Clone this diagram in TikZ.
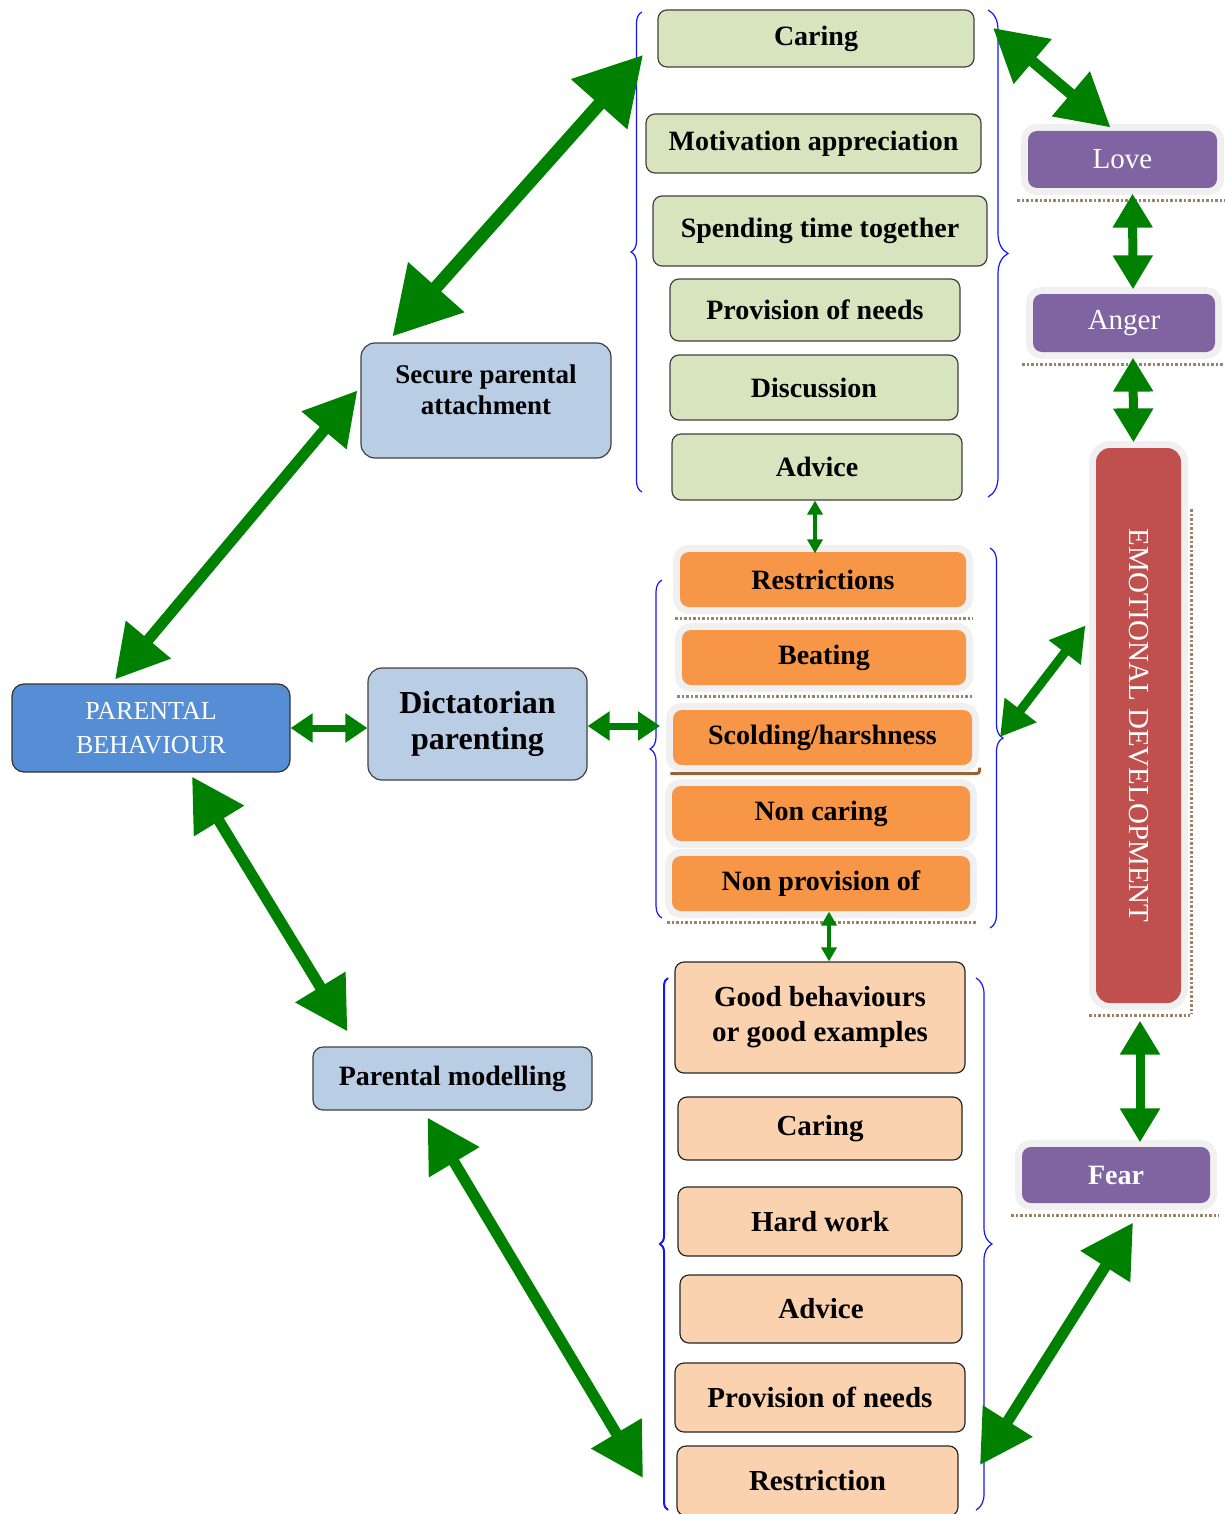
\documentclass[tikz,border=0pt]{standalone}
\usepackage{fontspec}
\setmainfont{Liberation Serif}
\usetikzlibrary{arrows.meta,decorations.pathreplacing}
\definecolor{agreen}{RGB}{0,128,0}
\definecolor{ggreen}{RGB}{215,228,189}
\definecolor{orng}{RGB}{247,150,70}
\definecolor{peach}{RGB}{250,210,176}
\definecolor{lblue}{RGB}{185,205,229}
\definecolor{dblue}{RGB}{85,142,213}
\definecolor{purp}{RGB}{128,100,162}
\definecolor{redb}{RGB}{192,80,77}
\definecolor{glow}{RGB}{240,240,240}
\definecolor{bblue}{RGB}{20,20,255}
\begin{document}
\begin{tikzpicture}[x=1pt,y=-1pt,
  every node/.style={inner sep=0pt, align=center},
  bx/.style={rounded corners=9pt, line width=1.2pt},
  gbox/.style={bx, draw=black!75, fill=ggreen, font=\bfseries\fontsize{28pt}{30pt}\selectfont},
  obox/.style={bx, fill=orng, preaction={draw=glow, line width=14pt}, font=\bfseries\fontsize{28pt}{30pt}\selectfont},
  pbox/.style={bx, draw=black!85, fill=peach, font=\bfseries\fontsize{29pt}{35pt}\selectfont},
  lbox/.style={bx, rounded corners=14pt, draw=black!75, fill=lblue, font=\bfseries\fontsize{28pt}{32pt}\selectfont},
  ebox/.style={bx, preaction={draw=glow, line width=14pt}, text=white, font=\fontsize{29pt}{32pt}\selectfont},
  shad/.style={dotted, line width=2.5pt, draw=brown!60!black!70},
  brc/.style={draw=bblue, line width=1.2pt, decorate},
  arrbig/.style={draw=agreen, line width=13pt, {Triangle[length=66pt,width=72pt]}-{Triangle[length=66pt,width=72pt]}},
  arrmed/.style={draw=agreen, line width=11pt, {Triangle[length=52pt,width=56pt]}-{Triangle[length=52pt,width=56pt]}},
  arrsm/.style={draw=agreen, line width=9pt, {Triangle[length=34pt,width=38pt]}-{Triangle[length=34pt,width=38pt]}},
  arrxs/.style={draw=agreen, line width=7pt, {Triangle[length=22pt,width=28pt]}-{Triangle[length=22pt,width=28pt]}},
  arrtiny/.style={draw=agreen, line width=4pt, {Triangle[length=14pt,width=15pt]}-{Triangle[length=14pt,width=15pt]}}
]
\useasboundingbox (0,0) rectangle (1225,1514);

% ---------- green column ----------
\node[gbox, minimum width=316pt, minimum height=57pt] (gcar) at (816,38.5) {Caring};
\node[gbox, minimum width=335pt, minimum height=59pt] (gmot) at (813.5,143.5) {Motivation appreciation};
\node[gbox, minimum width=334pt, minimum height=70pt] (gspe) at (820,231) {Spending time together};
\node[gbox, minimum width=290pt, minimum height=62pt] (gpro) at (815,310) {Provision of needs};
\node[gbox, minimum width=288pt, minimum height=65pt] (gdis) at (814,387.5) {Discussion};
\node[gbox, minimum width=290pt, minimum height=66pt] (gadv) at (817,467) {Advice};
\draw[brc, decoration={brace, amplitude=11pt}] (642,492) -- (642,12);
\draw[brc, decoration={brace, amplitude=20pt}] (988,10) -- (988,497);

% ---------- orange column ----------
\node[obox, minimum width=286pt, minimum height=55pt] (ores) at (823,579.5) {Restrictions};
\node[obox, minimum width=284pt, minimum height=55pt] (obea) at (824,657.5) {Beating};
\node[obox, minimum width=299pt, minimum height=55pt] (osco) at (822.5,737.5) {Scolding/harshness};
\node[obox, minimum width=298pt, minimum height=55pt] (ocar) at (821,813.5) {Non caring};
\node[obox, minimum width=298pt, minimum height=55pt] (onpr) at (821,883.5) {Non provision of};
\foreach \n in {ores,obea,onpr}{
  \draw[shad] ([xshift=-4pt,yshift=-11pt]\n.south west) -- ([xshift=6pt,yshift=-11pt]\n.south east);
}
\draw[line width=3pt, draw=brown!80!black, rounded corners=3pt] ([xshift=-2pt,yshift=-8pt]osco.south west) -- ([xshift=7pt,yshift=-8pt]osco.south east) -- ([xshift=7pt,yshift=-2pt]osco.south east);
\draw[brc, decoration={brace, amplitude=12pt}] (662,918) -- (662,580);
\draw[brc, decoration={brace, amplitude=13pt}] (990,548) -- (990,928);

% ---------- peach column ----------
\node[pbox, minimum width=290pt, minimum height=111pt] (pgoo) at (820,1017.5) {Good behaviours\\or good examples};
\node[pbox, minimum width=284pt, minimum height=63pt] (pcar) at (820,1128.5) {Caring};
\node[pbox, minimum width=284pt, minimum height=69pt] (phar) at (820,1221.5) {Hard work};
\node[pbox, minimum width=282pt, minimum height=68pt] (padv) at (821,1309) {Advice};
\node[pbox, minimum width=290pt, minimum height=69pt] (ppro) at (820,1397.5) {Provision of needs};
\node[pbox, minimum width=281pt, minimum height=70pt] (pres) at (817.5,1481) {Restriction};
\draw[brc, line width=2pt, decoration={brace, amplitude=8pt}] (668,1510) -- (668,978);
\draw[brc, decoration={brace, amplitude=16pt}] (976,978) -- (976,1510);

% ---------- left column ----------
\node[bx, rounded corners=12pt, draw=black!80, fill=dblue, text=white,
      font=\fontsize{26pt}{34pt}\selectfont, minimum width=278pt, minimum height=88pt] (pb) at (151,728) {PARENTAL\\BEHAVIOUR};
\node[lbox, minimum width=250pt, minimum height=115pt] (spa) at (486,400.5) {};
\node[font=\bfseries\fontsize{27pt}{31pt}\selectfont] (spat) at (486,390) {Secure parental\\attachment};
\node[lbox, minimum width=219pt, minimum height=112pt, font=\bfseries\fontsize{32pt}{36pt}\selectfont] (dic) at (477.5,724) {Dictatorian\\parenting};
\node[lbox, rounded corners=10pt, minimum width=279pt, minimum height=63pt] (pm) at (452.5,1078.5) {Parental modelling};

% ---------- right column ----------
\node[ebox, fill=purp, minimum width=189pt, minimum height=57pt] (love) at (1122.5,159.5) {Love};
\node[ebox, fill=purp, minimum width=182pt, minimum height=58pt] (anger) at (1124,323) {Anger};
\node[ebox, fill=redb, rounded corners=14pt, minimum width=85pt, minimum height=555pt] (emo) at (1138.5,725.5) {};
\node[rotate=-90, text=white, font=\fontsize{29pt}{30pt}\selectfont] (emot) at (emo.center) {EMOTIONAL DEVELOPMENT};
\node[ebox, fill=purp, minimum width=188pt, minimum height=56pt, font=\bfseries\fontsize{28pt}{32pt}\selectfont] (fear) at (1116,1175) {Fear};
\foreach \n in {love,anger,fear}{
  \draw[shad] ([xshift=-10pt,yshift=-12pt]\n.south west) -- ([xshift=8pt,yshift=-12pt]\n.south east);
}
\draw[shad] ([xshift=-6pt,yshift=-12pt]emo.south west) -- ([xshift=8pt,yshift=-12pt]emo.south east);
\draw[shad] ([xshift=10pt,yshift=-62pt]emo.north east) -- ([xshift=10pt,yshift=-10pt]emo.south east);

% ---------- connector end points on braces ----------
\coordinate (gbl) at (643,55);
\coordinate (gbr) at (993,28);
\coordinate (obl) at (660,726);
\coordinate (obr) at (1000,737);
\coordinate (pbl) at (643,1478);
\coordinate (pbr) at (980,1465);

% ---------- connectors ----------
\draw[arrbig] ([xshift=32pt,yshift=6pt]spa.north west) -- (gbl);
\draw[arrmed] ([xshift=-36pt,yshift=4pt]pb.north) -- ([xshift=-3pt,yshift=10pt]spa.west);
\draw[arrmed] ([xshift=41pt,yshift=-4pt]pb.south) -- ([xshift=35pt,yshift=15pt]pm.north west);
\draw[arrmed] ([xshift=-25pt,yshift=-7pt]pm.south) -- (pbl);
\draw[arrxs] (pb.east) -- (pb.east -| dic.west);
\draw[arrxs] (dic.east |- obl) -- (obl);
\draw[arrtiny] ([xshift=-2pt]gadv.south) -- ([xshift=-2pt,yshift=-2pt]gadv.south |- ores.north);
\draw[arrtiny] ([xshift=8pt]onpr.south) -- ([xshift=8pt]onpr.south |- pgoo.north);
\draw[arrmed] (gbr) -- ([xshift=-12pt,yshift=3pt]love.north);
\draw[arrsm] ([xshift=10pt,yshift=-5pt]love.south) -- ([xshift=9pt,yshift=4pt]anger.north);
\draw[arrsm] ([xshift=9pt,yshift=-5pt]anger.south) -- ([xshift=-5pt,yshift=5pt]emo.north);
\draw[arrsm] (obr) -- ([xshift=-10pt,yshift=100pt]emo.west);
\draw[arrsm] ([xshift=1.5pt,yshift=-17pt]emo.south) -- ([xshift=24pt,yshift=4pt]fear.north);
\draw[arrmed] ([xshift=17pt,yshift=-19pt]fear.south) -- (pbr);
\end{tikzpicture}
\end{document}
